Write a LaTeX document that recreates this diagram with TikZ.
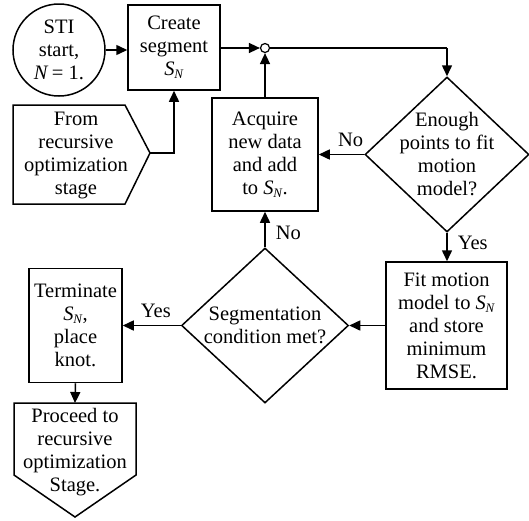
\documentclass[tikz,border=0pt]{standalone}
\usepackage{fontspec}
\setmainfont{Liberation Serif}
\usetikzlibrary{arrows.meta,shapes.geometric}
\newcommand\SubN{\textit{S}\kern-0.3pt\raisebox{-0.35ex}{\fontsize{13}{13}\selectfont\textit{N}}}
\begin{document}
\begin{tikzpicture}[x=1pt,y=-1pt, line width=1.5pt,
  every node/.style={font=\fontsize{20.5}{23}\selectfont, align=center, inner sep=0pt},
  box/.style={draw, rectangle},
  dia/.style={draw, diamond},
  arr/.style={-{Triangle[length=11pt,width=10pt]}},
  lbl/.style={font=\fontsize{20.5}{23}\selectfont}]
\useasboundingbox (0,0) rectangle (529,520);
% nodes
\node[draw,circle,minimum size=92pt] (start) at (59,50) {STI\\start,\\\textit{N}\,= 1.};
\node[box,minimum width=92pt,minimum height=85pt] (create) at (174,47.5) {Create\\segment\\\SubN};
\node[draw,circle,minimum size=9pt,line width=1.2pt] (junc) at (265,48) {};
\node (from) at (76,155) {From\\recursive\\optimization\\stage};
\coordinate (fromtip) at (150,153);
\draw (13,105) -- (125,105) -- (fromtip) -- (125,204) -- (13,204) -- cycle;
\node[box,minimum width=106pt,minimum height=113pt] (acq) at (265,154.5) {Acquire\\new data\\and add\\to \SubN.};
\node[dia,minimum width=164pt,minimum height=155pt] (enough) at (447,154.5) {};
\node (enoughtxt) at (enough) {Enough\\points to fit\\motion\\model?};
\node[box,minimum width=121pt,minimum height=127pt] (fit) at (446.5,325.5) {Fit motion\\model to \SubN\\and store\\minimum\\RMSE.};
\node[dia,minimum width=167pt,minimum height=155pt] (seg) at (265,325.5) {};
\node (segtxt) at (seg) {Segmentation\\condition met?};
\node[box,minimum width=93pt,minimum height=114pt] (term) at (75.5,325.5) {Terminate\\\SubN,\\place\\knot.};
\node (proc) at (75,452) {Proceed to\\recursive\\optimization\\Stage.};
\coordinate (proctop) at (75,403);
\draw (14,403) -- (proctop) -- (136,403) -- (136,475) -- (75,517) -- (14,475) -- cycle;
% connectors
\draw[arr] (start.east) -- (start.east -| create.west);
\draw[arr] (create.east |- junc) -- (junc.west);
\draw (junc.east) -- (junc.east -| enough.north);
\draw[arr] (junc.east -| enough.north) -- (enough.north);
\draw[arr] (acq.north) -- (junc.south);
\draw[arr] (fromtip) -| (create.south);
\draw[arr] (enough.west) -- node[lbl,above,pos=0.3,yshift=7pt]{No} (acq.east);
\draw[arr] (enough.south) -- node[lbl,right,pos=0.35,xshift=10pt]{Yes} (enough.south |- fit.north);
\draw[arr] (fit.west) -- (seg.east);
\draw[arr] (seg.north) -- node[lbl,right,pos=0.4,xshift=10pt]{No} (acq.south);
\draw[arr] (seg.west) -- node[lbl,above,pos=0.43,yshift=7pt]{Yes} (term.east);
\draw[arr] (term.south) -- (proctop);
\end{tikzpicture}
\end{document}
